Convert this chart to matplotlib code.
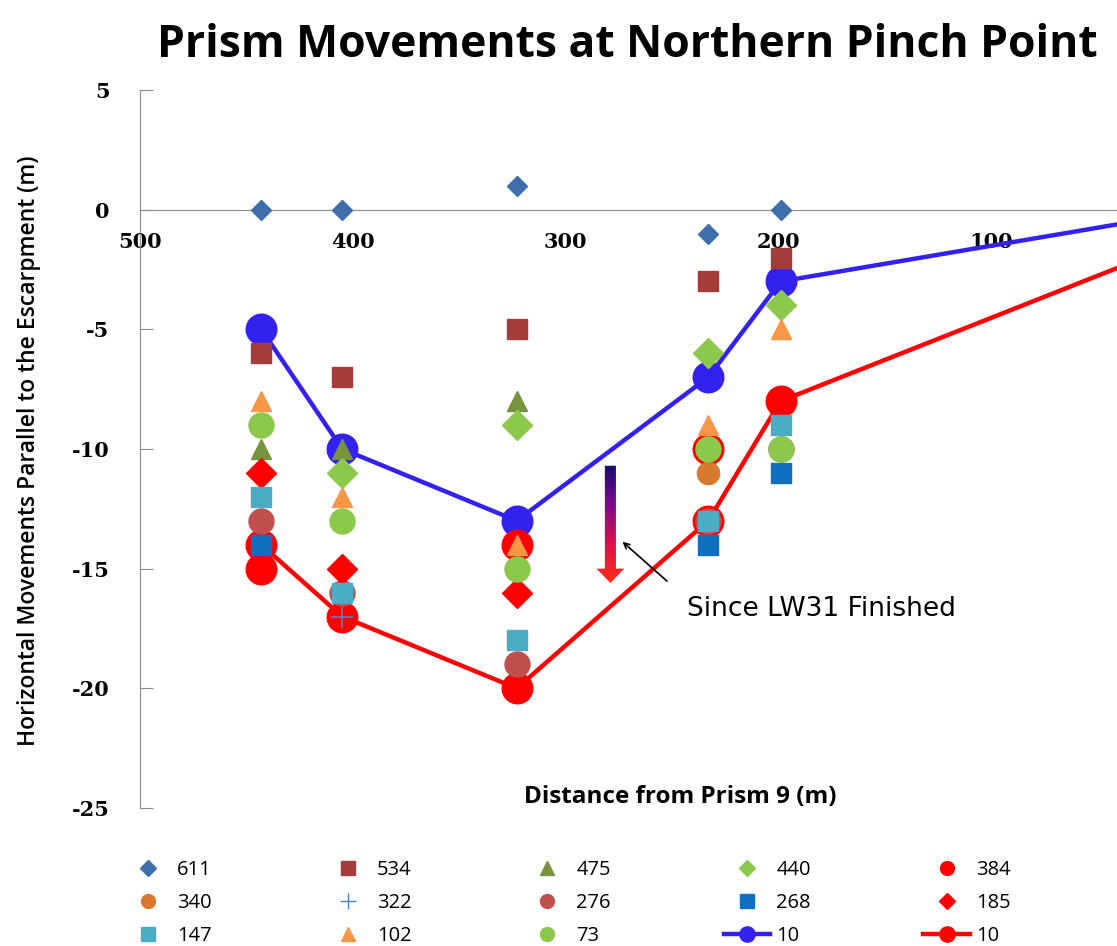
import numpy as np
import matplotlib
matplotlib.use('Agg')
import matplotlib.pyplot as plt
from matplotlib.lines import Line2D
from matplotlib.patches import Polygon
from matplotlib.colors import LinearSegmentedColormap

plt.rcParams['font.family'] = ['Open Sans', 'DejaVu Sans']

nan = np.nan
# distance from prism 9 (m)
dist = [443, 405, 323, 233, 199]
dist_line = [443, 405, 323, 233, 199, 0]

# horizontal movements (m) for each survey
s611 = [0, 0, 1, -1, 0]
s534 = [-6, -7, -5, -3, -2]
s475 = [-10, -10, -8, nan, nan]
s440 = [nan, -11, -9, -6, -4]
s384 = [-15, nan, -14, -10, nan]
s340 = [nan, nan, nan, -11, nan]
s322 = [nan, -17, nan, nan, nan]
s276 = [-13, -16, -19, -13, -10]
s268 = [-14, nan, nan, -14, -11]
s185 = [-11, -15, -16, nan, nan]
s147 = [-12, -16, -18, -13, -9]
s102 = [-8, -12, -14, -9, -5]
s73 = [-9, -13, -15, -10, -10]
blue10 = [-5, -10, -13, -7, -3, 0]
red10 = [-14, -17, -20, -13, -8, -1]

# label, values, marker, colour, size
series = [
    ('611', s611, 'D', '#3F6EAD', 10.5),
    ('534', s534, 's', '#A33C3A', 15),
    ('475', s475, '^', '#77933C', 15),
    ('440', s440, 'D', '#8CC84B', 15),
    ('384', s384, 'o', '#FF0000', 22),
    ('340', s340, 'o', '#D9792F', 16),
    ('322', s322, '+', '#4F81BD', 16),
    ('276', s276, 'o', '#C0504D', 18),
    ('268', s268, 's', '#0F6FC0', 15),
    ('185', s185, 'D', '#FF0000', 15),
    ('147', s147, 's', '#4BACC6', 15),
    ('102', s102, '^', '#F79646', 15),
    ('73', s73, 'o', '#8CC84B', 18),
]

fig = plt.figure(figsize=(11.17, 9.46), dpi=100)
ax = fig.add_axes([0.1253, 0.1459, 0.8747, 0.7590])

ax.plot(dist_line, blue10, '-o', color='#3322EE', lw=3.2, ms=22, zorder=2)
ax.plot(dist_line, red10, '-o', color='#FF0000', lw=3.2, ms=22, zorder=2)

for lab, vals, mk, col, sz in series:
    if mk == '+':
        ax.plot(dist, vals, ls='none', marker=mk, color=col, ms=sz, mew=1.2, zorder=3)
    else:
        ax.plot(dist, vals, ls='none', marker=mk, color=col, mec=col, ms=sz, zorder=3)

ax.set_xlim(500, 41)
ax.set_ylim(-25, 5)
ax.spines['top'].set_visible(False)
ax.spines['right'].set_visible(False)
ax.spines['left'].set_color('#8A8A8A')
ax.spines['bottom'].set_color('#8A8A8A')
ax.spines['bottom'].set_position(('data', 0))
ax.set_yticks([5, 0, -5, -10, -15, -20, -25])
ax.set_yticklabels(['5', '0', '-5', '-10', '-15', '-20', '-25'])
ax.set_xticks([500, 400, 300, 200, 100])
ax.tick_params(axis='y', direction='in', length=9, color='#8A8A8A', labelsize=15, pad=22)
ax.tick_params(axis='x', length=0, labelsize=15, pad=16)
for t in ax.get_xticklabels() + ax.get_yticklabels():
    t.set_family(['DejaVu Serif'])
    t.set_fontweight('bold')

# gradient arrow
ax0 = 279
verts = [(ax0 - 2.6, -10.7), (ax0 + 2.6, -10.7), (ax0 + 2.6, -15.0), (ax0 + 6.5, -15.0),
         (ax0, -15.6), (ax0 - 6.5, -15.0), (ax0 - 2.6, -15.0)]
poly = Polygon(verts, closed=True, facecolor='none', edgecolor='none')
ax.add_patch(poly)
cmap = LinearSegmentedColormap.from_list('arr', ['#120a6a', '#7a0a90', '#e0104a', '#ff3010'])
grad = np.linspace(0, 1, 256).reshape(-1, 1)
im = ax.imshow(grad, extent=[ax0 + 7, ax0 - 7, -15.7, -10.6], cmap=cmap,
               aspect='auto', origin='upper', zorder=4)
im.set_clip_path(poly)
ax.set_xlim(500, 41)
ax.set_ylim(-25, 5)

ax.annotate('', xy=(274.3, -13.8), xytext=(251.4, -15.6),
            arrowprops=dict(arrowstyle='->', color='black', lw=1.2), zorder=5)
ax.text(243, -16.7, 'Since LW31 Finished', family=['DejaVu Sans'], fontsize=19,
        va='center', ha='left')

fig.text(0.562, 0.952, 'Prism Movements at Northern Pinch Point', ha='center', va='center',
         fontsize=32, fontweight='bold')
fig.text(0.026, 0.524, 'Horizontal Movements Parallel to the Escarpment (m)', rotation=90,
         ha='center', va='center', fontsize=16.5, fontweight='semibold')
fig.text(0.609, 0.157, 'Distance from Prism 9 (m)', ha='center', va='center',
         fontsize=17.5, fontweight='bold')

# legend, row-major order like the original
handles = []
for lab, vals, mk, col, sz in series:
    if mk == '+':
        h = Line2D([], [], ls='none', marker=mk, color=col, ms=12, mew=1.0, label=lab)
    else:
        h = Line2D([], [], ls='none', marker=mk, color=col, ms=10 if mk != 'D' else 8, label=lab)
    handles.append(h)
handles.append(Line2D([], [], color='#3322EE', lw=3.2, marker='o', ms=11, label='10'))
handles.append(Line2D([], [], color='#FF0000', lw=3.2, marker='o', ms=11, label='10'))
order = []
for c in range(5):
    for r in range(3):
        order.append(handles[r * 5 + c])
fig.legend(handles=order, ncol=5, loc='center', bbox_to_anchor=(0.508, 0.0455), frameon=False,
           fontsize=14.5, handlelength=2.3, handletextpad=0.3, columnspacing=5.6,
           labelspacing=0.65)

plt.savefig('out.png', dpi=100)
